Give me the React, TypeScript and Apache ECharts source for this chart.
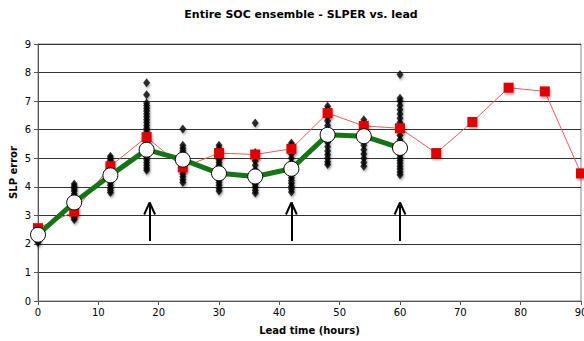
import React, { useEffect, useRef } from "react";
import * as echarts from "echarts";

const leads = [0, 6, 12, 18, 24, 30, 36, 42, 48, 54, 60, 66, 72, 78, 84, 90];
const slper = [2.55, 3.13, 4.72, 5.74, 4.68, 5.18, 5.13, 5.33, 6.58, 6.13, 6.05, 5.18, 6.27, 7.47, 7.34, 4.47];
const meanLeads = [0, 6, 12, 18, 24, 30, 36, 42, 48, 54, 60];
const ensMean = [2.32, 3.45, 4.4, 5.3, 4.95, 4.47, 4.36, 4.63, 5.82, 5.77, 5.36];

const m0 = [2.05, 2.12, 2.2, 2.28, 2.35, 2.42];
const m6 = [2.85, 2.92, 3.0, 3.08, 3.15, 3.25, 3.35, 3.45, 3.55, 3.65, 3.75, 3.85, 3.93, 4.02, 4.1];
const m12 = [3.8, 3.88, 3.95, 4.05, 4.15, 4.25, 4.35, 4.45, 4.55, 4.65, 4.75, 4.85, 4.93, 5.0, 5.07];
const m18 = [4.58, 4.66, 4.75, 4.85, 4.95, 5.05, 5.15, 5.25, 5.35, 5.45, 5.55, 5.65, 5.75, 5.85, 5.95, 6.05, 6.15, 6.25, 6.35, 6.45, 6.55, 6.65, 6.75, 6.85, 6.93, 7.22, 7.64];
const m24 = [4.15, 4.25, 4.35, 4.45, 4.55, 4.65, 4.75, 4.85, 4.95, 5.05, 5.15, 5.25, 5.35, 5.45, 6.02];
const m30 = [3.85, 3.95, 4.05, 4.15, 4.25, 4.35, 4.45, 4.55, 4.65, 4.75, 4.85, 4.95, 5.05, 5.15, 5.25, 5.35, 5.45];
const m36 = [3.78, 3.88, 3.98, 4.08, 4.18, 4.3, 4.45, 4.6, 4.75, 4.9, 5.05, 5.2, 6.23];
const m42 = [3.82, 3.92, 4.02, 4.12, 4.22, 4.32, 4.42, 4.55, 4.7, 4.85, 5.0, 5.15, 5.3, 5.45, 5.53];
const m48 = [4.78, 4.88, 5.0, 5.12, 5.25, 5.4, 5.55, 5.7, 5.85, 6.0, 6.15, 6.3, 6.45, 6.6, 6.72, 6.82];
const m54 = [4.72, 4.85, 5.0, 5.15, 5.3, 5.45, 5.6, 5.75, 5.9, 6.05, 6.2, 6.35];
const m60 = [4.42, 4.52, 4.62, 4.72, 4.82, 4.92, 5.02, 5.12, 5.22, 5.35, 5.5, 5.65, 5.8, 5.95, 6.1, 6.25, 6.4, 6.55, 6.7, 6.85, 7.0, 7.1, 7.93];
const members = [m0, m6, m12, m18, m24, m30, m36, m42, m48, m54, m60];

const arrowLeads = [18.5, 42, 60];
const arrowFrom = 2.1;
const arrowTo = 3.45;

const FONT = "DejaVu Sans";

export default function App() {
  const ref = useRef<HTMLDivElement>(null);
  useEffect(() => {
    const chart = echarts.init(ref.current!, undefined, { renderer: "svg" });
    const memberData: number[][] = [];
    members.forEach((arr, i) => arr.forEach((v) => memberData.push([meanLeads[i], v])));
    const arrowLines: any[] = [];
    arrowLeads.forEach((x) => {
      arrowLines.push([{ coord: [x, arrowFrom] }, { coord: [x, arrowTo] }]);
      arrowLines.push([{ coord: [x - 0.9, arrowTo - 0.42] }, { coord: [x, arrowTo] }]);
      arrowLines.push([{ coord: [x + 0.9, arrowTo - 0.42] }, { coord: [x, arrowTo] }]);
    });
    chart.setOption({
      animation: false,
      title: {
        text: "Entire SOC ensemble - SLPER vs. lead",
        left: 296,
        textAlign: "center",
        top: 4,
        textStyle: { fontFamily: FONT, fontSize: 11, fontWeight: "bold", color: "#000" },
      },
      grid: {
        left: 38,
        right: 3,
        top: 44,
        bottom: 40,
        containLabel: false,
        outerBoundsMode: "none",
        show: true,
        borderColor: "#888",
        borderWidth: 1,
        backgroundColor: "transparent",
      },
      xAxis: {
        type: "value",
        min: 0,
        max: 90,
        interval: 10,
        name: "Lead time (hours)",
        nameLocation: "middle",
        nameGap: 24,
        nameMoveOverlap: false,
        nameTextStyle: { fontFamily: FONT, fontSize: 10, fontWeight: "bold", color: "#000" },
        axisLine: { show: true, lineStyle: { color: "#555", width: 1 } },
        axisTick: { show: true, length: 4, lineStyle: { color: "#555" } },
        axisLabel: { fontFamily: FONT, fontSize: 10, color: "#000", margin: 6 },
        splitLine: { show: false },
      },
      yAxis: {
        type: "value",
        min: 0,
        max: 9,
        interval: 1,
        name: "SLP error",
        nameLocation: "middle",
        nameGap: 20,
        nameMoveOverlap: false,
        nameTextStyle: { fontFamily: FONT, fontSize: 10, fontWeight: "bold", color: "#000" },
        axisLine: { show: true, lineStyle: { color: "#555", width: 1 } },
        axisTick: { show: true, length: 4, lineStyle: { color: "#555" } },
        axisLabel: { fontFamily: FONT, fontSize: 10, color: "#000", margin: 7 },
        splitLine: { show: true, lineStyle: { color: "#333", width: 1 } },
      },
      series: [
        {
          type: "scatter",
          z: 2,
          symbol: "diamond",
          symbolSize: [7, 9],
          data: memberData,
          itemStyle: {
            color: "#000",
            shadowColor: "rgba(0,0,0,0.35)",
            shadowBlur: 2,
            shadowOffsetX: 1,
            shadowOffsetY: 2,
          },
          silent: true,
        },
        {
          type: "line",
          z: 3,
          data: leads.map((x, i) => [x, slper[i]]),
          symbol: "rect",
          symbolSize: 10,
          showAllSymbol: true,
          lineStyle: { color: "#f05a5a", width: 1 },
          itemStyle: {
            color: "#e00000",
            shadowColor: "rgba(0,0,0,0.35)",
            shadowBlur: 2,
            shadowOffsetX: 1,
            shadowOffsetY: 2,
          },
          silent: true,
        },
        {
          type: "line",
          z: 4,
          data: meanLeads.map((x, i) => [x, ensMean[i]]),
          symbol: "circle",
          symbolSize: 15,
          showAllSymbol: true,
          lineStyle: { color: "#137513", width: 5 },
          itemStyle: { color: "#fff", borderColor: "#000", borderWidth: 1 },
          silent: true,
          markLine: {
            silent: true,
            symbol: "none",
            label: { show: false },
            lineStyle: { color: "#000", width: 2, type: "solid" },
            data: arrowLines,
          },
        },
      ],
    });
    return () => chart.dispose();
  }, []);
  return (
    <div
      ref={ref}
      style={{ position: "fixed", left: 0, top: 0, width: 584, height: 341, background: "#fff" }}
    />
  );
}
